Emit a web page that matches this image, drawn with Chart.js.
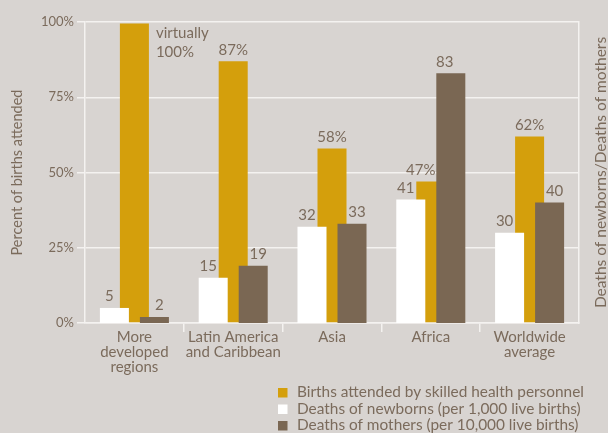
<!DOCTYPE html>
<html><head><meta charset="utf-8">
<script src="https://cdn.jsdelivr.net/npm/chart.js@4/dist/chart.umd.min.js"></script>
<style>html,body{margin:0;padding:0;background:#d8d4d1;}#wrap{position:relative;width:608px;height:433px;}</style>
</head><body><div id="wrap"><canvas id="c" width="608" height="433"></canvas></div>
<script>
const categories = [['More','developed','regions'], ['Latin America','and Caribbean'], 'Asia', 'Africa', ['Worldwide','average']];
const birthsAttended = [99.5, 87, 58, 47, 62];
const newbornDeaths = [5, 15, 32, 41, 30];
const motherDeaths = [2, 19, 33, 83, 40];
const birthsNotes = ['virtually', '', '', '', ''];
const seriesLabels = ['Births attended by skilled health personnel','Deaths of newborns (per 1,000 live births)','Deaths of mothers (per 10,000 live births)'];
const leftTitle = 'Percent of births attended';
const rightTitle = 'Deaths of newborns/Deaths of mothers';

const TXT = '#7b6b5c', GOLD = '#d49f0c', BROWN = '#7a6753', WHITE = '#ffffff', GRID = '#f4f2f0';
const FONT = 'Lato, "Open Sans", sans-serif';
Chart.defaults.font.family = FONT;
Chart.defaults.color = TXT;

const valueLabels = {
  id: 'valueLabels',
  afterDatasetsDraw(chart) {
    const c = chart.ctx;
    c.save();
    c.fillStyle = TXT;
    c.font = '15px ' + FONT;
    c.textBaseline = 'alphabetic';
    const g = chart.getDatasetMeta(0).data, w = chart.getDatasetMeta(1).data, b = chart.getDatasetMeta(2).data;
    const above = (el, t, dx) => { c.textAlign = 'center'; c.fillText(t, el.x + (dx || 0), el.y - 6.5); };
    categories.forEach((_, i) => {
      const goldTaller = birthsAttended[i] > motherDeaths[i];
      above(w[i], String(newbornDeaths[i]), birthsAttended[i] > newbornDeaths[i] ? -5 : 0);
      above(b[i], String(motherDeaths[i]), goldTaller ? 5 : -6);
      const gt = Math.round(birthsAttended[i]) + '%';
      if (birthsNotes[i]) {
        c.textAlign = 'left';
        const x = g[i].x + g[i].width / 2 + 7;
        c.fillText(birthsNotes[i], x, g[i].y + 14);
        c.fillText(gt, x, g[i].y + 33);
      } else {
        above(g[i], gt, goldTaller ? 0 : -10);
      }
    });
    c.restore();
  }
};

const extras = {
  id: 'extras',
  afterDraw(chart) {
    const c = chart.ctx, a = chart.chartArea;
    c.save();
    c.fillStyle = TXT;
    c.font = '15.5px ' + FONT;
    c.translate(601, (a.top + a.bottom) / 2);
    c.rotate(-Math.PI / 2);
    c.textAlign = 'center';
    c.textBaseline = 'middle';
    c.fillText(rightTitle, 0, 0);
    c.restore();
    // legend
    c.save();
    c.font = '15.4px ' + FONT;
    c.textAlign = 'left';
    c.textBaseline = 'middle';
    chart.data.datasets.forEach((ds, k) => {
      const y = 392.5 + k * 16.5;
      c.fillStyle = ds.backgroundColor;
      c.fillRect(278, y - 4.5, 9.5, 9.5);
      c.fillStyle = TXT;
      c.fillText(ds.label, 297, y);
    });
    c.restore();
  }
};

const pairOpts = {barPercentage: 0.725, categoryPercentage: 0.81, order: 0};

new Chart(document.getElementById('c'), {
  type: 'bar',
  data: {
    labels: categories,
    datasets: [
      {label: seriesLabels[0], data: birthsAttended, backgroundColor: GOLD, yAxisID: 'y', order: 1, grouped: false, barPercentage: 0.3625, categoryPercentage: 0.81},
      Object.assign({label: seriesLabels[1], data: newbornDeaths, backgroundColor: WHITE, yAxisID: 'y2'}, pairOpts),
      Object.assign({label: seriesLabels[2], data: motherDeaths, backgroundColor: BROWN, yAxisID: 'y2'}, pairOpts)
    ]
  },
  options: {
    responsive: false,
    animation: false,
    layout: {padding: {top: 22, left: 0, right: 0, bottom: 0}},
    plugins: {legend: {display: false}, tooltip: {enabled: false}},
    scales: {
      x: {
        position: 'bottom', offset: true,
        grid: {display: true, drawOnChartArea: false, offset: true, tickLength: 9, lineWidth: 1.5,
               color: ctx => (ctx.index === undefined || ctx.index === 0) ? 'rgba(0,0,0,0)' : GRID},
        border: {display: true, color: GRID, width: 1.5},
        ticks: {font: {size: 15, lineHeight: 1.03}, padding: -3, color: TXT, maxRotation: 0, autoSkip: false},
        afterFit: s => { s.height = 110; }
      },
      y: {
        position: 'left', min: 0, max: 100,
        ticks: {stepSize: 25, callback: v => v + '%', padding: 3, font: {size: 13}, color: TXT},
        grid: {color: GRID, tickLength: 8, lineWidth: 1.5},
        border: {display: true, color: GRID, width: 1.5},
        title: {display: true, text: leftTitle, font: {size: 14.5}, color: TXT, padding: {top: 9, bottom: 0}},
        afterFit: s => { s.width = 85; }
      },
      y2: {
        position: 'right', min: 0, max: 100,
        ticks: {display: false},
        grid: {display: false},
        border: {display: true, color: GRID, width: 1.5},
        afterFit: s => { s.width = 29; }
      }
    }
  },
  plugins: [valueLabels, extras]
});
</script></body></html>
